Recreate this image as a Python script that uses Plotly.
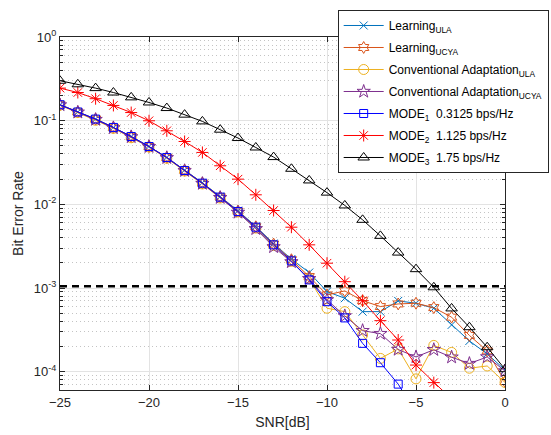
import plotly.graph_objects as go

snr = list(range(-25, 1))

learning_ula = [0.155, 0.127, 0.1045, 0.083, 0.0647, 0.0491, 0.0363, 0.0256, 0.0181, 0.0124,
                0.0084, 0.00545, 0.0034, 0.00222, 1.53e-3, 9.06e-4, 7.55e-4, 5.22e-4, 5.22e-4, 7.01e-4,
                6.58e-4, 5.73e-4, 3.62e-4, 2.33e-4, 1.63e-4, 1.05e-4]
learning_ucya = [0.155, 0.127, 0.1045, 0.083, 0.0647, 0.0491, 0.0363, 0.0255, 0.0180, 0.0123,
                 0.0083, 0.0054, 0.00335, 0.00218, 1.37e-3, 8.27e-4, 9.23e-4, 7.06e-4, 6.0e-4, 6.45e-4,
                 6.58e-4, 5.83e-4, 4.48e-4, 2.71e-4, 1.77e-4, 7.6e-5]
conv_ula = [0.153, 0.125, 0.101, 0.081, 0.0625, 0.0485, 0.0355, 0.0250, 0.0175, 0.0119,
            0.0081, 0.0052, 0.00322, 0.00208, 1.29e-3, 5.73e-4, 5.22e-4, 2.75e-4, 1.44e-4, 1.87e-4,
            8.2e-5, 2.06e-4, 1.70e-4, 1.10e-4, 1.17e-4, 7.43e-5]
conv_ucya = [0.154, 0.126, 0.103, 0.082, 0.064, 0.0488, 0.036, 0.0252, 0.0177, 0.0120,
             0.0080, 0.0051, 0.0031, 0.00205, 1.29e-3, 7.21e-4, 4.64e-4, 3.09e-4, 2.85e-4, 1.84e-4,
             1.50e-4, 1.83e-4, 1.49e-4, 1.25e-4, 1.50e-4, 1.02e-4]
mode1 = [0.155, 0.127, 0.1045, 0.083, 0.0647, 0.0491, 0.0363, 0.0254, 0.0179, 0.0122,
         0.0082, 0.00533, 0.00328, 0.00211, 1.25e-3, 6.87e-4, 4.39e-4, 2.18e-4, 1.28e-4, 7.1e-5,
         3.2e-5, None, None, None, None, None]
mode2 = [0.245, 0.217, 0.183, 0.152, 0.125, 0.0997, 0.0757, 0.0564, 0.0417, 0.0289,
         0.0200, 0.0130, 0.00844, 0.00533, 0.00328, 0.00198, 0.00119, 7.06e-4, 4.07e-4, 2.39e-4,
         1.20e-4, 7.4e-5, 4.7e-5, None, None, None]
mode3 = [0.300, 0.272, 0.245, 0.217, 0.190, 0.165, 0.1415, 0.118, 0.098, 0.078,
         0.062, 0.0478, 0.0367, 0.0266, 0.0193, 0.0138, 0.0097, 0.00653, 0.0042, 0.00265,
         0.00168, 0.00102, 5.7e-4, 3.4e-4, 1.96e-4, 1.07e-4]
threshold = 1.05e-3

names = ["Learning<sub>ULA</sub>", "Learning<sub>UCYA</sub>",
         "Conventional Adaptation<sub>ULA</sub>", "Conventional Adaptation<sub>UCYA</sub>",
         "MODE<sub>1</sub>  0.3125 bps/Hz", "MODE<sub>2</sub>  1.125 bps/Hz",
         "MODE<sub>3</sub>  1.75 bps/Hz"]
colors = ["#0072BD", "#D95319", "#EDB120", "#7E2F8E", "#0000FF", "#FF0000", "#000000"]
symbols = ["x-thin-open", "hexagram-open", "circle-open", "star-open",
           "square-open", "asterisk-open", "triangle-up-open"]
sizes = [8, 9, 10, 10, 8, 10, 10]
series = [learning_ula, learning_ucya, conv_ula, conv_ucya, mode1, mode2, mode3]

fig = go.Figure()
for i, (nm, c, s, sz, ys) in enumerate(zip(names, colors, symbols, sizes, series)):
    fig.add_trace(go.Scatter(
        x=snr, y=ys, name=nm, mode="lines+markers", legendgroup=f"g{i}",
        line=dict(color=c, width=1),
        marker=dict(symbol=s, size=sz, color=c, line=dict(color=c, width=1)),
    ))

fig.add_trace(go.Scatter(
    x=[snr[0], snr[-1]], y=[threshold, threshold], mode="lines", showlegend=False,
    line=dict(color="black", width=2.5, dash="7px,5px"),
))

font = "Liberation Sans, Arial, Helvetica, sans-serif"
axcol = "#262626"
ytv = [1, 0.1, 0.01, 0.001, 0.0001]
ytt = ["10<sup>0</sup>", "10<sup>-1</sup>", "10<sup>-2</sup>", "10<sup>-3</sup>", "10<sup>-4</sup>"]

fig.update_layout(
    width=551, height=435,
    margin=dict(l=60, r=45.5, t=37, b=45, pad=0, autoexpand=False),
    paper_bgcolor="white", plot_bgcolor="white",
    font=dict(family=font, size=13, color=axcol),
    showlegend=True,
    legend=dict(x=0.624, y=1.0765, xanchor="left", yanchor="top",
                bgcolor="white", bordercolor="#262626", borderwidth=1,
                font=dict(family=font, size=12, color="black"),
                tracegroupgap=3, itemwidth=40),
    xaxis=dict(range=[-25, 0], tickvals=[-25, -20, -15, -10, -5, 0],
               ticks="inside", ticklen=5, tickcolor=axcol, showline=True, linecolor=axcol,
               linewidth=1, mirror="ticks", showgrid=True, gridcolor="#e3e3e3", gridwidth=1,
               zeroline=False, tickfont=dict(size=13),
               title=dict(text="SNR[dB]", font=dict(size=14), standoff=8)),
    yaxis=dict(type="log", range=[-4.219, 0], tickvals=ytv, ticktext=ytt,
               ticks="inside", ticklen=5, tickcolor=axcol, showline=True, linecolor=axcol,
               linewidth=1, mirror="ticks", showgrid=True, gridcolor="#e3e3e3", gridwidth=1,
               zeroline=False, tickfont=dict(size=13),
               minor=dict(dtick="D1", ticks="inside", ticklen=3, tickcolor=axcol,
                          showgrid=True, gridcolor="#c4c4c4", griddash="1px,3px", gridwidth=1),
               title=dict(text="Bit Error Rate", font=dict(size=14), standoff=6)),
)

fig.write_html("out.html")
